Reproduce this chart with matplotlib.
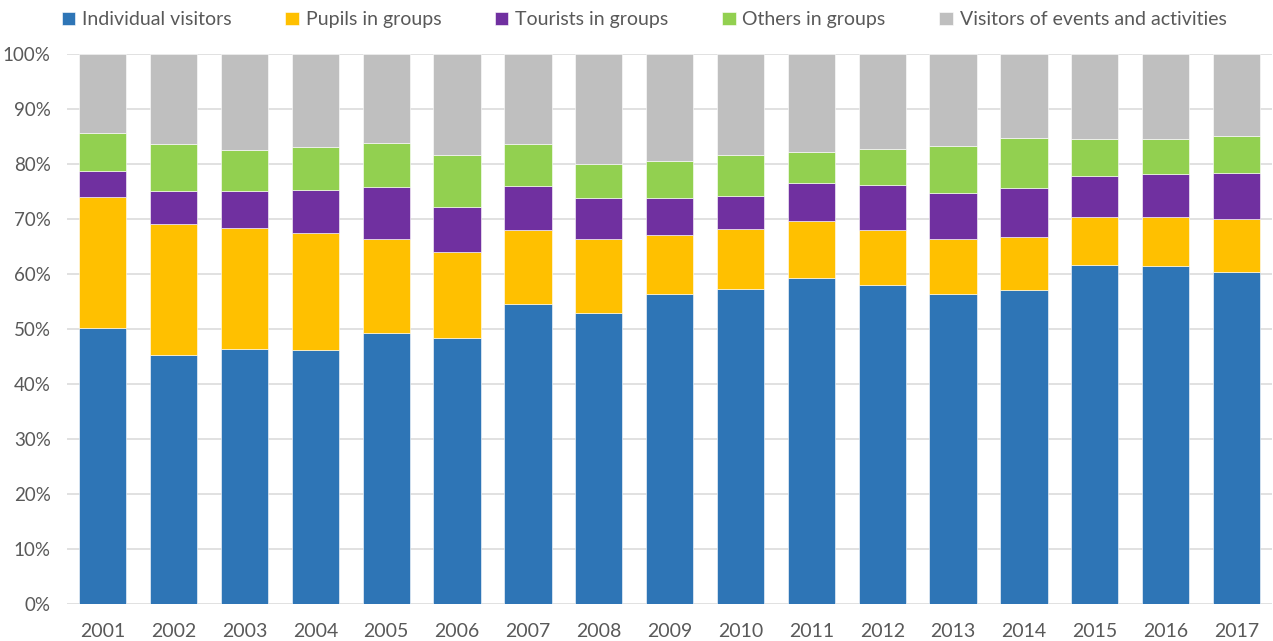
import matplotlib
matplotlib.use("Agg")
import matplotlib.pyplot as plt
import numpy as np
from matplotlib.ticker import PercentFormatter

years = ["2001", "2002", "2003", "2004", "2005", "2006", "2007", "2008", "2009",
         "2010", "2011", "2012", "2013", "2014", "2015", "2016", "2017"]
series_names = ["Individual visitors", "Pupils in groups", "Tourists in groups",
                "Others in groups", "Visitors of events and activities"]
individual = [50.1, 45.3, 46.4, 46.2, 49.3, 48.4, 54.5, 52.9, 56.4, 57.2, 59.3, 57.9, 56.3, 57.1, 61.6, 61.4, 60.4]
pupils = [23.8, 23.7, 22.0, 21.2, 17.1, 15.6, 13.4, 13.4, 10.6, 10.9, 10.3, 10.1, 10.0, 9.6, 8.8, 9.0, 9.5]
tourists = [4.8, 6.1, 6.7, 7.9, 9.3, 8.2, 8.1, 7.4, 6.7, 6.1, 6.9, 8.2, 8.4, 8.9, 7.4, 7.7, 8.5]
others = [6.9, 8.5, 7.4, 7.8, 8.1, 9.4, 7.6, 6.3, 6.8, 7.4, 5.7, 6.5, 8.5, 9.1, 6.7, 6.4, 6.7]
events = [14.4, 16.4, 17.5, 16.9, 16.2, 18.4, 16.4, 20.0, 19.5, 18.4, 17.8, 17.3, 16.8, 15.3, 15.5, 15.5, 14.9]

colors = ["#2E75B6", "#FFC000", "#7030A0", "#92D050", "#BFBFBF"]
text_color = "#595959"
font = ["Lato", "DejaVu Sans"]
plt.rcParams["font.family"] = font

data = np.array([individual, pupils, tourists, others, events], dtype=float)
data = data / data.sum(axis=0) * 100.0

fig = plt.figure(figsize=(12.73, 6.41), dpi=100)
ax = fig.add_axes([0.0529, 0.0582, 0.9463, 0.858])

x = np.arange(len(years))
bottom = np.zeros(len(years))
handles = []
for vals, name, c in zip(data, series_names, colors):
    h = ax.bar(x, vals, bottom=bottom, width=0.667, color=c, label=name,
               edgecolor="white", linewidth=0.4, zorder=3)
    handles.append(h)
    bottom += vals

ax.set_xlim(-0.5, len(years) - 0.5)
ax.set_ylim(0, 100)
ax.set_yticks(np.arange(0, 101, 10))
ax.yaxis.set_major_formatter(PercentFormatter(decimals=0))
ax.set_xticks(x)
ax.set_xticklabels(years)
ax.grid(axis="y", color="#D9D9D9", linewidth=1.1, zorder=0)
ax.set_axisbelow(True)
for s in ax.spines.values():
    s.set_visible(False)
ax.tick_params(axis="both", length=0, colors=text_color, labelsize=13.5)
ax.tick_params(axis="x", pad=14, labelsize=14)
ax.tick_params(axis="y", pad=12)

fig.legend(handles=handles, labels=series_names, loc="center", ncol=5,
           bbox_to_anchor=(0.506, 0.969), frameon=False, fontsize=14,
           handlelength=0.7, handleheight=0.7, handletextpad=0.35,
           columnspacing=2.75, labelcolor=text_color)

fig.savefig("out.png", dpi=100)
